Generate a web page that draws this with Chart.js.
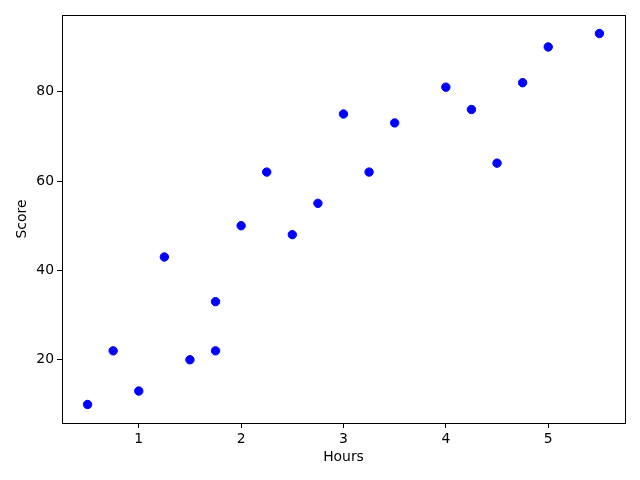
<!DOCTYPE html>
<html>
<head>
<meta charset="utf-8">
<script src="https://cdn.jsdelivr.net/npm/chart.js@4.4.1/dist/chart.umd.min.js"></script>
<style>
  html, body { margin: 0; padding: 0; background: #fff; }
  #wrap { width: 640px; height: 480px; }
</style>
</head>
<body>
<div id="wrap"><canvas id="scatter" width="640" height="480"></canvas></div>
<script>
const hours = [0.5, 0.75, 1, 1.25, 1.5, 1.75, 1.75, 2, 2.25, 2.5, 2.75, 3, 3.25, 3.5, 4, 4.25, 4.5, 4.75, 5, 5.5];
const scores = [10, 22, 13, 43, 20, 22, 33, 50, 62, 48, 55, 75, 62, 73, 81, 76, 64, 82, 90, 93];
const xTicks = [1, 2, 3, 4, 5];
const yTicks = [20, 40, 60, 80];

const points = hours.map((h, i) => ({ x: h, y: scores[i] }));

// frame around the plot area, like matplotlib's spines
const frame = {
  id: "frame",
  afterDraw(chart) {
    const { ctx, chartArea: a } = chart;
    ctx.save();
    ctx.strokeStyle = "#000";
    ctx.lineWidth = 1;
    ctx.strokeRect(Math.round(a.left) + 0.5, Math.round(a.top) + 0.5,
      Math.round(a.right - a.left), Math.round(a.bottom - a.top));
    ctx.restore();
  }
};

Chart.defaults.font.family = "DejaVu Sans";
Chart.defaults.font.size = 13.9;
Chart.defaults.color = "#000";

new Chart(document.getElementById("scatter"), {
  type: "scatter",
  data: {
    datasets: [{
      data: points,
      backgroundColor: "#0000ff",
      borderColor: "#0000ff",
      pointRadius: 4.2,
      pointHoverRadius: 4.2
    }]
  },
  options: {
    responsive: false,
    animation: false,
    layout: { padding: { top: 15, right: 15, left: 0, bottom: 0 } },
    plugins: { legend: { display: false }, tooltip: { enabled: false } },
    scales: {
      x: {
        type: "linear",
        min: 0.25,
        max: 5.75,
        afterBuildTicks: s => { s.ticks = xTicks.map(v => ({ value: v })); },
        afterFit: s => { s.height = 57; },
        grid: { drawOnChartArea: false, tickLength: 5, color: "#000" },
        border: { display: true, color: "#000" },
        ticks: { padding: 3, maxRotation: 0, callback: v => v },
        title: { display: true, text: "Hours", padding: { top: 2, bottom: 14 } }
      },
      y: {
        type: "linear",
        min: 5.85,
        max: 97.15,
        afterBuildTicks: s => { s.ticks = yTicks.map(v => ({ value: v })); },
        afterFit: s => { s.width = 62; },
        grid: { drawOnChartArea: false, tickLength: 5, color: "#000" },
        border: { display: true, color: "#000" },
        ticks: { padding: 3, callback: v => v },
        title: { display: true, text: "Score", padding: { top: 14, bottom: 4 } }
      }
    }
  },
  plugins: [frame]
});
</script>
</body>
</html>
